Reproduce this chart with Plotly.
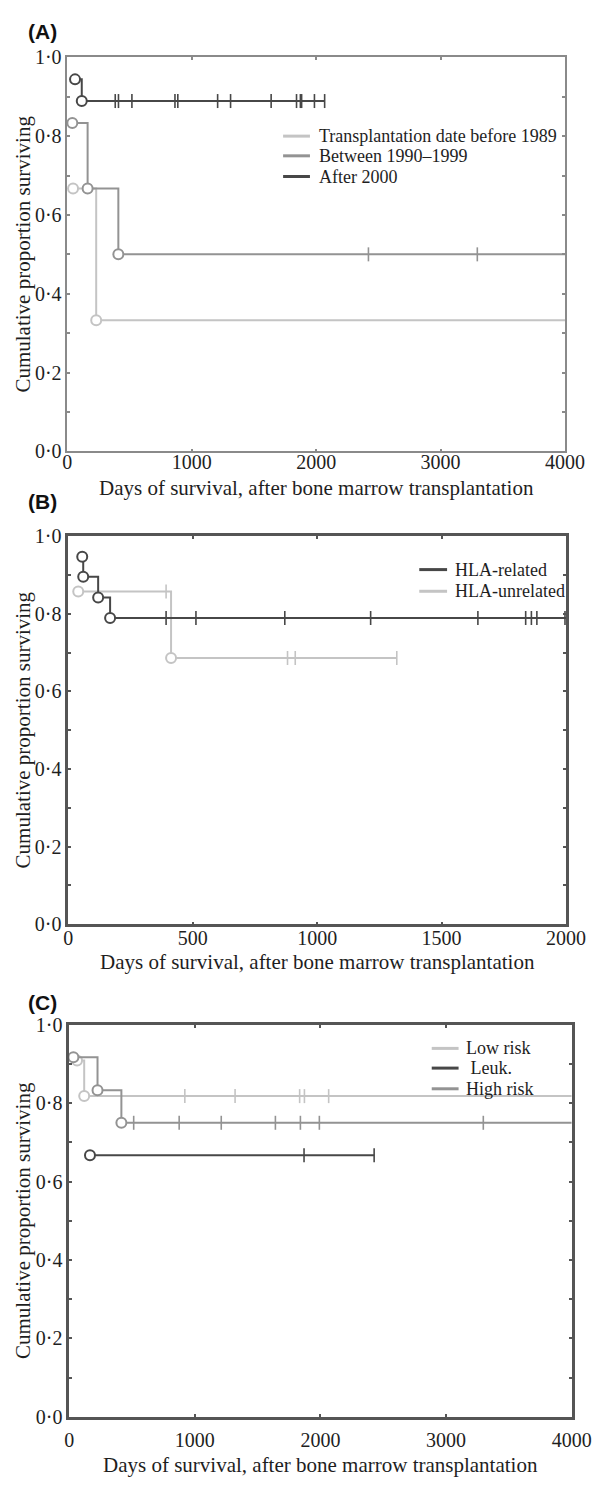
import plotly.graph_objects as go

W, H = 609, 1485

# ---------------- data ----------------
# Panel A: transplantation period
a_names = ["Transplantation date before 1989", "Between 1990\u20131999", "After 2000"]
a_before_t = [46, 232]
a_before_s = [0.667, 0.333]
a_before_cens = []
a_before_end = 4000
a_between_t = [40, 163, 410]
a_between_s = [0.833, 0.667, 0.500]
a_between_cens = [2420, 3295]
a_between_end = 4000
a_after_t = [62, 116]
a_after_s = [0.944, 0.889]
a_after_cens = [385, 411, 519, 865, 888, 1208, 1312, 1638, 1842, 1873, 1883, 1986, 2068]
a_after_end = 2068

# Panel B: donor type
b_names = ["HLA-related", "HLA-unrelated"]
b_rel_t = [56, 60, 120, 168]
b_rel_s = [0.947, 0.895, 0.842, 0.789]
b_rel_cens = [393, 513, 870, 1215, 1646, 1838, 1861, 1883, 1996]
b_rel_end = 2000
b_unrel_t = [40, 413]
b_unrel_s = [0.857, 0.686]
b_unrel_cens = [393, 881, 912, 1320]
b_unrel_end = 1320

# Panel C: risk group
c_names = ["Low risk", " Leuk.", "High risk"]
c_low_t = [62, 119]
c_low_s = [0.909, 0.818]
c_low_cens = [920, 1320, 1834, 1872, 2065]
c_low_end = 4000
c_leuk_t = [165]
c_leuk_s = [0.667]
c_leuk_cens = [1869, 2427]
c_leuk_end = 2427
c_high_t = [33, 225, 415]
c_high_s = [0.917, 0.833, 0.750]
c_high_cens = [513, 875, 1210, 1641, 1840, 1991, 3296]
c_high_end = 4000

y_ticks = [0.0, 0.1, 0.2, 0.3, 0.4, 0.5, 0.6, 0.7, 0.8, 0.9, 1.0]
y_ticklabels = ["0\u00b70", "", "0\u00b72", "", "0\u00b74", "", "0\u00b76", "", "0\u00b78", "", "1\u00b70"]
xa_ticks = [0, 1000, 2000, 3000, 4000]
xb_ticks = [0, 500, 1000, 1500, 2000]
xc_ticks = [0, 1000, 2000, 3000, 4000]

LIGHT = "#c4c4c4"
MID = "#939393"
DARK = "#474747"
SERIF = "Liberation Serif, Times New Roman, serif"
SANS = "Liberation Sans, Arial, sans-serif"
TXT = "#1e1e1e"

fig = go.Figure()


def surv_at(t_ev, s_ev, t):
    val = s_ev[0]
    for te, se in zip(t_ev, s_ev):
        if te <= t:
            val = se
    return val


def add_curve(name, t_ev, s_ev, cens, end, color, xa, ya):
    xs = list(t_ev) + [end]
    ys = list(s_ev) + [s_ev[-1]]
    fig.add_trace(go.Scatter(x=xs, y=ys, mode="lines", name=name,
                             line=dict(color=color, width=2, shape="hv"),
                             xaxis=xa, yaxis=ya, showlegend=False, cliponaxis=False))
    if cens:
        fig.add_trace(go.Scatter(x=cens, y=[surv_at(t_ev, s_ev, c) for c in cens], mode="markers",
                                 name=name + " (censored)",
                                 marker=dict(symbol="line-ns", size=10, line=dict(color=color, width=1.6)),
                                 xaxis=xa, yaxis=ya, showlegend=False, cliponaxis=False))
    fig.add_trace(go.Scatter(x=t_ev, y=s_ev, mode="markers", name=name + " (event)",
                             marker=dict(symbol="circle", size=10, color="white",
                                         line=dict(color=color, width=2)),
                             xaxis=xa, yaxis=ya, showlegend=False, cliponaxis=False))


# Panel A
add_curve(a_names[0], a_before_t, a_before_s, a_before_cens, a_before_end, LIGHT, "x", "y")
add_curve(a_names[1], a_between_t, a_between_s, a_between_cens, a_between_end, MID, "x", "y")
add_curve(a_names[2], a_after_t, a_after_s, a_after_cens, a_after_end, DARK, "x", "y")
# Panel B
add_curve(b_names[1], b_unrel_t, b_unrel_s, b_unrel_cens, b_unrel_end, LIGHT, "x2", "y2")
add_curve(b_names[0], b_rel_t, b_rel_s, b_rel_cens, b_rel_end, DARK, "x2", "y2")
# Panel C
add_curve(c_names[0], c_low_t, c_low_s, c_low_cens, c_low_end, LIGHT, "x3", "y3")
add_curve(c_names[2], c_high_t, c_high_s, c_high_cens, c_high_end, MID, "x3", "y3")
add_curve(c_names[1], c_leuk_t, c_leuk_s, c_leuk_cens, c_leuk_end, DARK, "x3", "y3")


def px_x(p):
    return p / W


def px_y(p):
    return 1 - p / H


def xaxis_style(left, right, xmax, ticks, frame, fw, anchor, standoff):
    return dict(domain=[px_x(left), px_x(right)], range=[0, xmax], tickvals=ticks,
                ticktext=[str(t) for t in ticks], ticks="inside", ticklen=3, tickwidth=1.5,
                tickcolor=frame, showline=True, linecolor=frame, linewidth=fw, mirror="ticks",
                showgrid=False, zeroline=False, anchor=anchor, ticklabelstandoff=standoff,
                tickfont=dict(family=SERIF, size=20, color=TXT), fixedrange=True)


def yaxis_style(top, bottom, frame, fw, anchor):
    return dict(domain=[px_y(bottom), px_y(top)], range=[0, 1], tickvals=y_ticks,
                ticktext=y_ticklabels, ticks="inside", ticklen=3, tickwidth=1.5,
                tickcolor=frame, showline=True, linecolor=frame, linewidth=fw, mirror="ticks",
                showgrid=False, zeroline=False, anchor=anchor, ticklabelstandoff=0,
                tickfont=dict(family=SERIF, size=20, color=TXT), fixedrange=True)


# plot boxes in pixels (left, right, top, bottom)
A_box = (65, 584, 47, 447)
B_box = (66, 585, 533, 927)
C_box = (67, 591, 1029, 1427)

fig.update_layout(
    width=W, height=H, autosize=False,
    margin=dict(l=0, r=0, t=0, b=0),
    paper_bgcolor="white", plot_bgcolor="white", showlegend=False,
    xaxis=xaxis_style(A_box[0], A_box[1], 4000, xa_ticks, "#8a8a8a", 1.5, "y", -8),
    yaxis=yaxis_style(A_box[2], A_box[3], "#8a8a8a", 1.5, "x"),
    xaxis2=xaxis_style(B_box[0], B_box[1], 2000, xb_ticks, "#555555", 2.5, "y2", -6),
    yaxis2=yaxis_style(B_box[2], B_box[3], "#555555", 2.5, "x2"),
    xaxis3=xaxis_style(C_box[0], C_box[1], 4000, xc_ticks, "#555555", 2.5, "y3", 3),
    yaxis3=yaxis_style(C_box[2], C_box[3], "#555555", 2.5, "x3"),
)

annotations = []
shapes = []

# legends: (names, colours, line x0, line x1, text x, row y's)
legends = [
    (a_names, [LIGHT, MID, DARK], 290, 318, 325, [127, 147, 168]),
    (b_names, [DARK, LIGHT], 432, 461, 467, [567, 589]),
    (c_names, [LIGHT, DARK, MID], 445, 473, 479, [1053, 1073, 1094]),
]
for names, cols, lx0, lx1, tx, rows in legends:
    for nm, col, ry in zip(names, cols, rows):
        shapes.append(dict(type="line", xref="paper", yref="paper", x0=px_x(lx0), x1=px_x(lx1),
                           y0=px_y(ry), y1=px_y(ry), line=dict(color=col, width=3)))
        annotations.append(dict(text=nm, x=px_x(tx), y=px_y(ry), xref="paper", yref="paper",
                                xanchor="left", yanchor="middle", showarrow=False,
                                font=dict(family=SERIF, size=18, color=TXT)))

for lab, yc in [("(A)", 21), ("(B)", 498), ("(C)", 1006)]:
    annotations.append(dict(text="<b>%s</b>" % lab, x=px_x(22), y=px_y(yc), xref="paper", yref="paper",
                            xanchor="left", yanchor="middle", showarrow=False,
                            font=dict(family=SANS, size=21, color="#111")))
xtitle = "Days of survival, after bone marrow transplantation"
for box, yc in [(A_box, 484), (B_box, 965), (C_box, 1476)]:
    annotations.append(dict(text=xtitle, x=px_x((box[0] + box[1]) / 2), y=px_y(yc), xref="paper",
                            yref="paper", xanchor="center", yanchor="middle", showarrow=False,
                            font=dict(family=SERIF, size=21, color=TXT)))
    annotations.append(dict(text="Cumulative proportion surviving", x=px_x(19),
                            y=px_y((box[2] + box[3]) / 2), xref="paper", yref="paper",
                            xanchor="center", yanchor="middle", textangle=-90, showarrow=False,
                            font=dict(family=SERIF, size=21, color=TXT)))
fig.update_layout(annotations=annotations, shapes=shapes)

fig.write_html("out.html")
